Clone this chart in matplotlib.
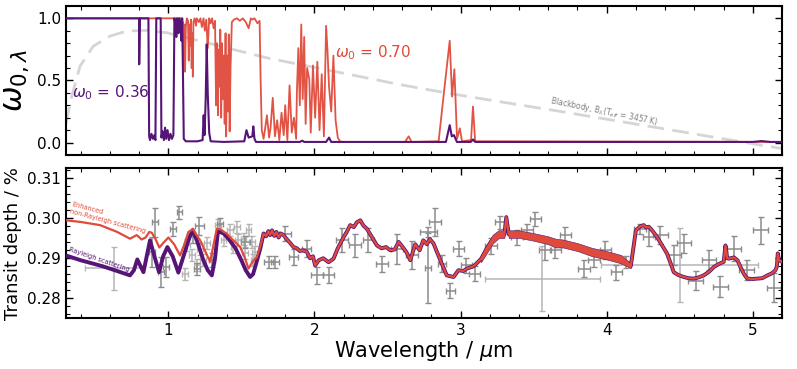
import matplotlib
matplotlib.use("Agg")
import matplotlib.pyplot as plt
from matplotlib.ticker import MultipleLocator

RED = "#e04a3a"
PURPLE = "#561477"

# ---------------- top panel: single-scattering albedo spectra ----------------
bb_x = [0.30, 0.339, 0.396, 0.487, 0.601, 0.716, 0.853, 0.99, 1.218, 1.446, 1.674,
        1.903, 2.131, 2.359, 2.588, 2.816, 3.044, 3.273, 3.66, 4.117, 4.573, 5.0, 5.2]
bb_y = [0.156, 0.372, 0.615, 0.776, 0.857, 0.898, 0.903, 0.884, 0.817, 0.749, 0.682,
        0.628, 0.574, 0.520, 0.466, 0.418, 0.372, 0.328, 0.255, 0.165, 0.075, -0.010, -0.048]

w070_x = [0.30, 1.09, 1.095, 1.10, 1.105, 1.11, 1.115, 1.12, 1.127, 1.135, 1.14, 1.145,
          1.15, 1.155, 1.16, 1.165, 1.168, 1.172, 1.18, 1.19, 1.195, 1.21, 1.22, 1.23,
          1.241, 1.25, 1.26, 1.27, 1.28, 1.29, 1.30, 1.31, 1.32, 1.327, 1.333, 1.34,
          1.345, 1.35, 1.356, 1.362, 1.368, 1.374, 1.38, 1.386, 1.392, 1.396, 1.402,
          1.408, 1.414, 1.42, 1.426, 1.435, 1.45, 1.47, 1.49, 1.51, 1.53, 1.55, 1.565,
          1.575, 1.59, 1.61, 1.625, 1.632, 1.64, 1.652, 1.66, 1.675, 1.69, 1.70, 1.715,
          1.73, 1.745, 1.76, 1.775, 1.79, 1.80, 1.815, 1.83, 1.845, 1.86, 1.875, 1.88,
          1.89, 1.90, 1.91, 1.92, 1.93, 1.94, 1.95, 1.965, 1.975, 1.99, 2.005, 2.02,
          2.035, 2.05, 2.065, 2.08, 2.09, 2.10, 2.115, 2.13, 2.145, 2.16, 2.176, 2.20,
          2.62, 2.645, 2.665, 2.85, 2.889, 2.926, 2.942, 2.958, 2.976, 2.995, 3.01,
          3.072, 3.085, 3.10, 5.2]
w070_y = [1.0, 1.0, 0.84, 0.97, 0.62, 0.95, 0.57, 0.93, 1.0, 0.98, 0.66, 0.95,
          0.78, 0.99, 0.60, 0.88, 0.53, 0.97, 1.0, 0.94, 1.0, 0.97, 1.0, 0.93,
          1.0, 0.90, 0.99, 0.76, 1.0, 0.96, 1.0, 0.92, 0.98, 0.30, 0.80, 0.22,
          0.75, 0.45, 0.91, 0.20, 0.80, 0.35, 0.70, 0.15, 0.88, 0.05, 0.70,
          0.25, 0.87, 0.09, 0.60, 0.97, 0.99, 1.0, 0.98, 1.0, 0.97, 0.92, 1.0,
          0.99, 1.0, 0.96, 0.98, 0.50, 0.10, 0.03, 0.09, 0.22, 0.04, 0.12, 0.36,
          0.05, 0.18, 0.02, 0.24, 0.06, 0.30, 0.02, 0.46, 0.08, 0.20, 0.03, 0.40,
          0.76, 0.30, 0.95, 0.35, 0.85, 0.15, 0.60, 0.51, 0.08, 0.62, 0.20, 0.65,
          0.10, 0.55, 0.05, 0.94, 0.73, 0.45, 0.25, 0.70, 0.18, 0.04, 0.008, 0.005,
          0.005, 0.05, 0.005, 0.01, 0.43, 0.82, 0.37, 0.59, 0.03, 0.115, 0.01,
          0.02, 0.29, 0.01, 0.005]

w036_x = [0.30, 0.80, 0.801, 0.806, 0.864, 0.869, 0.875, 0.885, 0.895, 0.905, 0.912,
          0.918, 0.948, 0.953, 0.96, 0.97, 0.978, 0.986, 0.995, 1.005, 1.015, 1.025,
          1.035, 1.042, 1.05, 1.055, 1.06, 1.065, 1.07, 1.075, 1.08, 1.085, 1.09,
          1.095, 1.10, 1.106, 1.12, 1.20, 1.235, 1.242, 1.248, 1.256, 1.263, 1.27,
          1.28, 1.29, 1.38, 1.52, 1.535, 1.55, 1.575, 1.582, 1.59, 1.60, 1.90, 1.918,
          1.93, 2.08, 2.10, 2.115, 2.90, 2.926, 2.94, 2.955, 2.975, 3.07, 3.085, 3.10,
          5.0, 5.06, 5.12, 5.2]
w036_y = [1.0, 1.0, 0.63, 1.0, 1.0, 0.05, 0.02, 0.07, 0.03, 0.06, 0.02,
          1.0, 1.0, 0.04, 0.09, 0.02, 0.12, 0.03, 0.10, 0.02, 0.07, 0.03,
          0.06, 1.0, 0.95, 0.85, 1.0, 0.96, 0.88, 1.0, 0.92, 0.98, 0.82,
          1.0, 0.60, 0.03, 0.01, 0.01, 0.02, 0.22, 0.06, 0.35, 0.79, 0.40,
          0.08, 0.01, 0.005, 0.01, 0.10, 0.04, 0.05, 0.13, 0.03, 0.005, 0.005, 0.015,
          0.005, 0.005, 0.04, 0.005, 0.005, 0.14, 0.05, 0.06, 0.005, 0.005, 0.025, 0.005,
          0.005, 0.012, 0.005, 0.005]

# ---------------- bottom panel: transit spectrum models ----------------
red_x = [0.30, 0.40, 0.533, 0.65, 0.738, 0.784, 0.818, 0.845, 0.870, 0.887, 0.910,
         0.939, 0.97, 1.001, 1.04, 1.081, 1.11, 1.138, 1.155, 1.168, 1.19, 1.218,
         1.25, 1.286, 1.31, 1.332, 1.36, 1.38, 1.40, 1.43, 1.46, 1.492, 1.52, 1.549,
         1.575, 1.606, 1.63, 1.652, 1.67, 1.685, 1.697, 1.71, 1.725, 1.74, 1.755,
         1.77, 1.789, 1.81, 1.83, 1.857, 1.88, 1.90, 1.92, 1.948, 1.97, 1.99, 2.005,
         2.03, 2.06, 2.097, 2.131, 2.16, 2.20, 2.22, 2.245, 2.27, 2.29, 2.314, 2.335,
         2.359, 2.39, 2.428, 2.46, 2.49, 2.519, 2.55, 2.576, 2.60, 2.63, 2.656, 2.69,
         2.72, 2.745, 2.77, 2.79, 2.815, 2.845, 2.872, 2.906, 2.952, 2.986, 3.02,
         3.043, 3.09, 3.14, 3.18, 3.22, 3.26, 3.30, 3.313, 3.33, 3.40, 3.50, 3.60,
         3.65, 3.70, 3.80, 3.90, 4.00, 4.10, 4.165,
         4.20, 4.23, 4.254, 4.27, 4.288, 4.315, 4.345, 4.38, 4.413, 4.44, 4.459,
         4.49, 4.527, 4.56, 4.596, 4.63, 4.664, 4.70, 4.733, 4.77, 4.801, 4.813,
         4.825, 4.836, 4.871, 4.895, 4.916, 4.94, 4.962, 5.0, 5.03, 5.065, 5.10,
         5.13, 5.155, 5.165, 5.171, 5.18, 5.2]
red_y = [0.2995, 0.2991, 0.2983, 0.2966, 0.2949, 0.2958, 0.2947, 0.2952, 0.2966, 0.2964, 0.2950,
         0.2927, 0.2940, 0.2952, 0.2935, 0.2907, 0.2935, 0.2966, 0.2970, 0.2974, 0.2960, 0.2945,
         0.2920, 0.2891, 0.2935, 0.2974, 0.2972, 0.2966, 0.2962, 0.2950, 0.2940, 0.2928, 0.2905, 0.2874,
         0.2890, 0.2903, 0.2930, 0.2962, 0.2955, 0.2968, 0.2958, 0.2970, 0.2956, 0.2966, 0.2952,
         0.2962, 0.2958, 0.2948, 0.2940, 0.2928, 0.2925, 0.2918, 0.2920, 0.2916, 0.2900, 0.2905, 0.2882,
         0.2895, 0.2900, 0.2890, 0.2899, 0.2925, 0.2953, 0.2965, 0.2983, 0.2978, 0.2990, 0.2995, 0.2982,
         0.2974, 0.2955, 0.2932, 0.2925, 0.2928, 0.2920, 0.2922, 0.2941, 0.2930, 0.2915, 0.2895, 0.2935,
         0.2920, 0.2945, 0.2935, 0.2948, 0.2937, 0.2910, 0.2886, 0.2857, 0.2853, 0.2870, 0.2868,
         0.2874, 0.2880, 0.2898, 0.2925, 0.2948, 0.2960, 0.2960, 0.3003, 0.2960, 0.2960, 0.2953, 0.2945,
         0.2938, 0.2937, 0.2928, 0.2915, 0.2907, 0.2897, 0.2880,
         0.2970, 0.2980, 0.2983, 0.2977, 0.2979, 0.2968, 0.2953, 0.2932, 0.2912, 0.2885, 0.2865,
         0.2858, 0.2853, 0.2850, 0.2849, 0.2852, 0.2857, 0.2866, 0.2878, 0.2886, 0.2891, 0.2932,
         0.2900, 0.2899, 0.2902, 0.2895, 0.2878, 0.2860, 0.2849, 0.2848, 0.2849, 0.2850, 0.2857,
         0.2862, 0.2870, 0.2880, 0.2912, 0.2895, 0.2891]

# unresolved line-forest spread of the high-resolution model (3.1-4.2 um)
band_x = [3.14, 3.18, 3.22, 3.26, 3.30, 3.313, 3.33, 3.40, 3.50, 3.60, 3.65, 3.70,
          3.80, 3.90, 4.00, 4.10, 4.165]
band_lo = [0.2890, 0.2913, 0.2937, 0.2950, 0.2951, 0.2985, 0.2951, 0.2951, 0.2944, 0.2935,
           0.2927, 0.2927, 0.2918, 0.2905, 0.2897, 0.2887, 0.2875]
band_hi = [0.2904, 0.2935, 0.2959, 0.2970, 0.2970, 0.3007, 0.2970, 0.2970, 0.2963, 0.2955,
           0.2949, 0.2947, 0.2938, 0.2926, 0.2918, 0.2908, 0.2887]

# Rayleigh-scattering model where it departs from the enhanced model (below ~1.65 um)
ray_x = [0.30, 0.40, 0.55, 0.65, 0.738, 0.765, 0.788, 0.81, 0.83, 0.85, 0.875, 0.905,
         0.937, 0.965, 0.994, 1.03, 1.069, 1.10, 1.145, 1.168, 1.20, 1.24, 1.27, 1.298,
         1.32, 1.34, 1.38, 1.42, 1.46, 1.50, 1.53, 1.56, 1.58, 1.60, 1.63]
ray_y = [0.2907, 0.2895, 0.2880, 0.2868, 0.2857, 0.2870, 0.2897, 0.2880, 0.2865, 0.2900, 0.2945, 0.2905,
         0.2865, 0.2905, 0.2928, 0.2905, 0.2864, 0.2900, 0.2953, 0.2970, 0.2940, 0.2895, 0.2870, 0.2857,
         0.2900, 0.2968, 0.2962, 0.2945, 0.2925, 0.2895, 0.2870, 0.2853, 0.2860, 0.2885, 0.2925]

# ---------------- observations ----------------
obs_x = [0.887, 0.91, 0.95, 0.985, 1.03, 1.076, 1.172, 1.197, 1.213, 1.298, 1.355,
         1.526, 1.686, 1.73, 1.80, 1.857, 1.948, 2.017, 2.097, 2.188, 2.28, 2.37,
         2.462, 2.565, 2.668, 2.775, 2.78, 2.827, 2.873, 2.93, 2.987, 3.04, 3.096,
         3.21, 3.273, 3.387, 3.455, 3.512, 3.58, 3.649, 3.718, 3.843, 3.912, 3.992,
         4.067, 4.129, 4.23, 4.288, 4.368, 4.46, 4.53, 4.608, 4.70, 4.779, 4.871,
         4.958, 5.053, 5.145]
obs_y = [0.2916, 0.2990, 0.2865, 0.2878, 0.2973, 0.3015, 0.2952, 0.2874, 0.2981, 0.2895, 0.2987,
         0.2941, 0.2890, 0.2890, 0.2962, 0.2903, 0.2924, 0.2857, 0.2857, 0.2945, 0.2932, 0.2945,
         0.2886, 0.2924, 0.2907, 0.2875, 0.2966, 0.2990, 0.2886, 0.2819, 0.2924, 0.2882, 0.2861,
         0.2930, 0.2990, 0.2953, 0.2970, 0.2999, 0.2920, 0.2920, 0.2958, 0.2874, 0.2895, 0.2920,
         0.2865, 0.2890, 0.2974, 0.2953, 0.2958, 0.2907, 0.2937, 0.2844, 0.2895, 0.2829, 0.2924,
         0.2870, 0.2970, 0.2826]
obs_xerr = [0.02, 0.02, 0.02, 0.02, 0.02, 0.015, 0.02, 0.02, 0.03, 0.02, 0.02,
            0.03, 0.03, 0.03, 0.04, 0.03, 0.03, 0.04, 0.04, 0.04, 0.04, 0.04,
            0.04, 0.04, 0.04, 0.02, 0.057, 0.04, 0.03, 0.03, 0.04, 0.04, 0.04,
            0.04, 0.04, 0.04, 0.04, 0.04, 0.04, 0.04, 0.04, 0.04, 0.04, 0.04,
            0.04, 0.03, 0.04, 0.04, 0.05, 0.05, 0.05, 0.05, 0.05, 0.05, 0.05,
            0.05, 0.05, 0.05]
obs_yerr = [0.0038, 0.0036, 0.0038, 0.0025, 0.0018, 0.0017, 0.0015, 0.0015, 0.0023, 0.0018, 0.0015,
            0.0015, 0.0015, 0.0015, 0.0018, 0.0020, 0.0022, 0.0021, 0.0020, 0.0030, 0.0029, 0.0030,
            0.0020, 0.0038, 0.0035, 0.0088, 0.0012, 0.0035, 0.0021, 0.0019, 0.0018, 0.0019, 0.0019,
            0.0020, 0.0016, 0.0019, 0.0016, 0.0017, 0.0025, 0.0019, 0.0020, 0.0022, 0.0018, 0.0023,
            0.0019, 0.0015, 0.0012, 0.0023, 0.0022, 0.0025, 0.0025, 0.0024, 0.0025, 0.0026, 0.0031,
            0.0025, 0.0034, 0.0036]

lobs_x = [0.63, 1.115, 1.127, 1.161, 1.195, 1.218, 1.24, 1.263, 1.343, 1.378, 1.423,
          1.446, 1.47, 1.48, 1.515, 1.526, 1.549, 1.572, 1.583, 1.595, 3.558, 4.50]
lobs_y = [0.2875, 0.2861, 0.2932, 0.2907, 0.2882, 0.2924, 0.2895, 0.2937, 0.2983, 0.2945, 0.2970,
          0.2928, 0.2978, 0.2945, 0.2949, 0.2912, 0.2970, 0.2941, 0.2895, 0.2916, 0.2849, 0.2883]
lobs_xerr = [0.20, 0.02, 0.02, 0.02, 0.02, 0.02, 0.02, 0.02, 0.02, 0.02, 0.02,
             0.02, 0.02, 0.02, 0.02, 0.02, 0.02, 0.02, 0.02, 0.02, 0.394, 0.536]
lobs_yerr = [0.0054, 0.0015, 0.0015, 0.0015, 0.0015, 0.0015, 0.0015, 0.0015, 0.0015, 0.0015, 0.0015,
             0.0015, 0.0015, 0.0015, 0.0015, 0.0015, 0.0015, 0.0015, 0.0015, 0.0015, 0.0082, 0.0092]

# ---------------- figure ----------------
fig = plt.figure(figsize=(7.97, 3.69), dpi=100)
ax1 = fig.add_axes([0.0828, 0.580, 0.8984, 0.404])
ax2 = fig.add_axes([0.0828, 0.138, 0.8984, 0.4054])

for ax in (ax1, ax2):
    ax.set_xlim(0.3, 5.2)
    ax.tick_params(which="both", direction="in", top=True, right=True, labelsize=11)
    ax.tick_params(which="major", length=5, width=1.0)
    ax.tick_params(which="minor", length=3, width=0.8)
    ax.xaxis.set_major_locator(MultipleLocator(1))
    ax.xaxis.set_minor_locator(MultipleLocator(0.2))
    for s in ax.spines.values():
        s.set_linewidth(1.5)

# top
ax1.plot(bb_x, bb_y, color="#d5d5d5", lw=2.0, dashes=(6, 3), zorder=1)
ax1.plot(w070_x, w070_y, color=RED, lw=1.3, alpha=0.95, zorder=2)
ax1.plot(w036_x, w036_y, color=PURPLE, lw=1.5, zorder=3)
ax1.set_ylim(-0.1, 1.1)
ax1.yaxis.set_minor_locator(MultipleLocator(0.1))
ax1.set_yticks([0.0, 0.5, 1.0])
ax1.set_yticklabels(["0.0", "0.5", "1.0"])
ax1.tick_params(labelbottom=False)
ax1.set_ylabel(r"$\omega_{0,\lambda}$", fontsize=22, labelpad=4)
ax1.text(2.142, 0.725, r"$\omega_0$ = 0.70", color=RED, fontsize=11, va="center", ha="left")
ax1.text(0.339, 0.40, r"$\omega_0$ = 0.36", color=PURPLE, fontsize=11, va="center", ha="left")
ax1.text(3.98, 0.25, r"Blackbody, B$_\lambda$(T$_{eff}$ = 3457 K)", color="#808080",
         fontsize=5.5, rotation=-11.5, ha="center", va="center")

# bottom
ax2.errorbar(lobs_x, lobs_y, xerr=lobs_xerr, yerr=lobs_yerr, fmt="none", ecolor="#b5b5b5",
             elinewidth=1.1, capsize=2.5, capthick=1.0, zorder=1)
ax2.errorbar(obs_x, obs_y, xerr=obs_xerr, yerr=obs_yerr, fmt="none", ecolor="#8c8c8c",
             elinewidth=1.1, capsize=2.5, capthick=1.0, zorder=2)
ray_full_x = ray_x + [x for x in red_x if x > 1.65]
ray_full_y = ray_y + [y for x, y in zip(red_x, red_y) if x > 1.65]
ax2.plot(ray_full_x, ray_full_y, color=PURPLE, lw=2.8, zorder=3)
ax2.fill_between(band_x, band_lo, band_hi, facecolor=RED, edgecolor=PURPLE,
                 linewidth=0.4, zorder=3.5)
ax2.plot(red_x, red_y, color=RED, lw=1.6, zorder=4)
ax2.set_ylim(0.275, 0.3125)
ax2.set_yticks([0.28, 0.29, 0.30, 0.31])
ax2.set_yticklabels(["0.28", "0.29", "0.30", "0.31"])
ax2.yaxis.set_minor_locator(MultipleLocator(0.002))
ax2.set_ylabel("Transit depth / %", fontsize=13, labelpad=4)
ax2.set_xlabel(r"Wavelength / $\mu$m", fontsize=15, labelpad=1)
ax2.text(0.59, 0.3002, "Enhanced\nnon-Rayleigh scattering", color=RED, fontsize=4.7,
         rotation=-15, ha="center", va="center", multialignment="left")
ax2.text(0.53, 0.2897, "Rayleigh scattering", color=PURPLE, fontsize=4.7,
         rotation=-19, ha="center", va="center")

fig.savefig("out.png", dpi=100)
